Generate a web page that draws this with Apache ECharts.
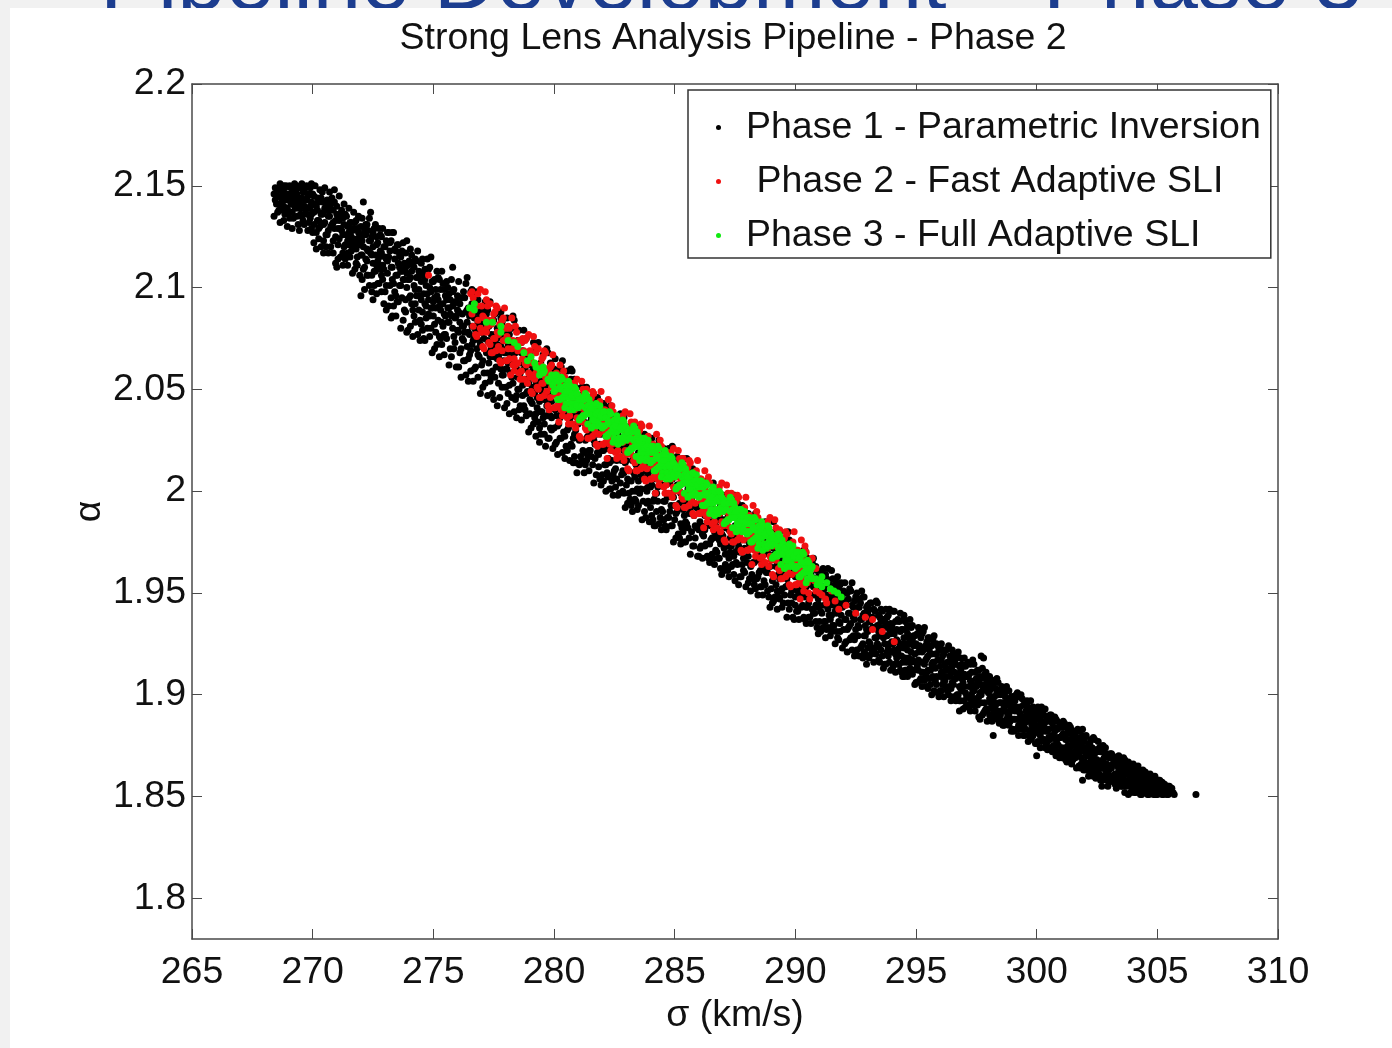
<!DOCTYPE html>
<html>
<head>
<meta charset="utf-8">
<title>Strong Lens Analysis Pipeline - Phase 2</title>
<script src="https://cdn.jsdelivr.net/npm/echarts@6/dist/echarts.min.js"></script>
<style>
  html, body { margin: 0; padding: 0; background: #f1f1f1; }
  #chart { width: 1392px; height: 1048px; }
</style>
</head>
<body>
<div id="chart"></div>
<script>
// Posterior samples, grouped by sigma (km/s): [sigma, [alpha, alpha, ...]]
const phase1Samples = [
[268.4,[2.146,2.135]],[268.5,[2.141]],[268.6,[2.148,2.138]],[268.7,[2.144]],
[268.8,[2.150,2.140,2.133]],[268.9,[2.146,2.150]],[269.0,[2.143,2.137]],[269.1,[2.149,2.141]],
[269.2,[2.142,2.146,2.134]],[269.3,[2.150,2.139]],[269.4,[2.144,2.131]],[269.5,[2.150,2.141,2.136]],
[269.6,[2.147,2.133]],[269.7,[2.143,2.149,2.138]],[269.8,[2.128,2.145]],[269.9,[2.149,2.140,2.134]],
[270.0,[2.146,2.127,2.137]],[270.1,[2.150,2.141]],[270.2,[2.144,2.133,2.138]],[270.3,[2.148,2.130]],
[270.4,[2.142,2.136,2.147]],[270.5,[2.149,2.132,2.139]],[270.6,[2.143,2.126]],[270.7,[2.147,2.135,2.140]],
[270.8,[2.131,2.144]],[270.9,[2.148,2.142,2.129]],[271.0,[2.136,2.110,2.140]],[271.1,[2.133,2.145,2.124]],
[271.2,[2.138,2.128]],[271.3,[2.131,2.141,2.120]],[271.4,[2.135,2.126,2.116]],[271.5,[2.127,2.139,2.121]],
[271.6,[2.132,2.118,2.125]],[271.7,[2.137,2.123,2.129]],[271.8,[2.119,2.133,2.112]],[271.9,[2.127,2.122,2.135]],
[272.0,[2.096,2.130,2.116,2.124]],[272.1,[2.142,2.120,2.109]],[272.2,[2.126,2.114,2.131]],[272.3,[2.118,2.128,2.106]],
[272.4,[2.137,2.117,2.123]],[272.5,[2.094,2.112,2.127,2.120]],[272.6,[2.131,2.108,2.116]],[272.7,[2.122,2.113,2.102]],
[272.8,[2.126,2.118,2.109]],[272.9,[2.111,2.129,2.104]],[273.0,[2.120,2.115,2.098]],[273.1,[2.127,2.107,2.113]],
[273.2,[2.118,2.101,2.122]],[273.3,[2.127,2.086,2.110,2.104]],[273.4,[2.114,2.098,2.119]],[273.5,[2.106,2.121,2.093]],
[273.6,[2.110,2.101,2.116]],[273.7,[2.095,2.108,2.118]],[273.8,[2.104,2.112,2.089]],[273.9,[2.123,2.078,2.100,2.107]],
[274.0,[2.113,2.095,2.104]],[274.1,[2.092,2.108,2.116]],[274.2,[2.101,2.086,2.110]],[274.3,[2.096,2.105,2.113]],
[274.4,[2.089,2.099,2.108]],[274.5,[2.103,2.082,2.094,2.112]],[274.6,[2.075,2.097,2.106]],[274.7,[2.091,2.101,2.085]],
[274.8,[2.109,2.094,2.087]],[274.9,[2.115,2.098,2.080,2.090]],[275.0,[2.093,2.103,2.086]],[275.1,[2.099,2.078,2.090]],
[275.2,[2.084,2.094,2.105]],[275.3,[2.089,2.099,2.075]],[275.4,[2.092,2.081,2.102]],[275.5,[2.086,2.096,2.077]],
[275.6,[2.100,2.083,2.090]],[275.7,[2.070,2.087,2.094]],[275.8,[2.110,2.080,2.091,2.098]],[275.9,[2.085,2.073,2.093]],
[276.0,[2.079,2.089,2.096]],[276.1,[2.068,2.083,2.092]],[276.2,[2.087,2.075,2.081]],[276.3,[2.095,2.078,2.064]],
[276.4,[2.105,2.083,2.071,2.089]],[276.5,[2.077,2.086,2.067]],[276.6,[2.081,2.072,2.092,2.099]],[276.7,[2.060,2.076,2.085]],
[276.8,[2.079,2.070,2.088]],[276.9,[2.066,2.082,2.074]],[277.0,[2.090,2.071,2.062,2.078]],[277.1,[2.075,2.083,2.058]],
[277.2,[2.068,2.079,2.087]],[277.3,[2.073,2.063,2.081]],[277.4,[2.056,2.070,2.077]],[277.5,[2.084,2.066,2.072,2.045]],
[277.6,[2.061,2.075,2.069]],[277.7,[2.079,2.053,2.066]],[277.8,[2.071,2.060,2.085,2.088]],[277.9,[2.064,2.074,2.057]],
[278.0,[2.068,2.051,2.077,2.060]],[278.1,[2.072,2.063,2.048]],[278.2,[2.058,2.067,2.080]],[278.3,[2.053,2.064,2.071,2.086]],
[278.4,[2.061,2.045,2.068]],[278.5,[2.056,2.074,2.050]],[278.6,[2.063,2.042,2.058]],[278.7,[2.052,2.069,2.047]],
[278.8,[2.060,2.055,2.040]],[278.9,[2.049,2.066,2.054]],[279.0,[2.058,2.038,2.045,2.062]],[279.1,[2.051,2.043,2.056]],
[279.2,[2.036,2.048,2.060]],[279.3,[2.053,2.041,2.046]],[279.4,[2.044,2.031,2.050,2.024]],[279.5,[2.039,2.055,2.047]],
[279.6,[2.033,2.045,2.028]],[279.7,[2.048,2.037,2.042,2.070]],[279.8,[2.026,2.040,2.052]],[279.9,[2.036,2.044,2.030]],
[280.0,[2.048,2.031,2.060]],[280.1,[2.037,2.053,2.024]],[280.2,[2.043,2.055,2.033]],[280.3,[2.048,2.026,2.061,2.038]],
[280.4,[2.029,2.045,2.055]],[280.5,[2.037,2.022,2.048]],[280.6,[2.050,2.031,2.041]],[280.7,[2.023,2.055,2.033,2.060]],
[280.8,[2.044,2.026,2.037,2.014]],[280.9,[2.051,2.030,2.014,2.041]],[281.0,[2.026,2.045,2.033]],[281.1,[2.036,2.017,2.047]],
[281.2,[2.020,2.039,2.051]],[281.3,[2.033,2.025,2.013]],[281.4,[2.040,2.027,2.045,2.017]],[281.5,[2.020,2.046,2.034]],
[281.6,[2.013,2.029,2.036]],[281.7,[2.040,2.016,2.023]],[281.8,[2.032,2.046,2.019]],[281.9,[2.006,2.029,2.036,2.023]],
[282.0,[2.020,2.037,2.008]],[282.1,[2.029,2.013,2.042]],[282.2,[2.021,2.009,2.031]],[282.3,[2.014,2.036,2.001,2.024]],
[282.4,[2.031,2.015,2.005]],[282.5,[2.021,2.036,2.010]],[282.6,[2.006,2.025,2.015]],[282.7,[2.031,1.999,2.021]],
[282.8,[2.008,2.026,2.015]],[282.9,[1.999,2.020,2.036,2.009]],[283.0,[2.022,2.003,2.015]],[283.1,[2.010,2.029,1.999]],
[283.2,[2.024,2.005,1.993]],[283.3,[2.009,2.017,2.029,1.995]],[283.4,[2.000,2.013,1.995,2.023]],[283.5,[2.019,1.993,2.005]],
[283.6,[2.024,2.008,2.001]],[283.7,[1.995,2.019,2.012]],[283.8,[2.001,1.987,2.014]],[283.9,[2.025,2.002,1.995,2.008]],
[284.0,[1.992,2.024,2.002]],[284.1,[2.013,1.995,2.006,1.986]],[284.2,[2.020,1.999,1.983,2.010]],[284.3,[1.995,2.014,2.002]],
[284.4,[2.006,1.987,2.017]],[284.5,[1.990,2.009,2.021]],[284.6,[2.003,1.995,1.983]],[284.7,[2.010,1.997,2.015,1.987]],
[284.8,[1.990,2.016,2.004]],[284.9,[1.983,1.999,2.006,2.022]],[285.0,[2.010,1.986,1.993]],[285.1,[2.003,2.017,1.990]],
[285.2,[1.977,2.000,2.007,1.994]],[285.3,[1.999,1.982,2.011]],[285.4,[1.988,2.004,1.975]],[285.5,[1.994,2.006,1.984,2.016]],
[285.6,[1.999,1.977,2.012,1.989]],[285.7,[1.980,1.996,2.006]],[285.8,[1.988,1.973,1.999]],[285.9,[2.001,1.982,1.992]],
[286.0,[1.981,2.003,1.968,1.991]],[286.1,[1.999,1.983,1.973]],[286.2,[1.989,2.004,1.978]],[286.3,[1.974,1.993,1.983]],
[286.4,[1.999,1.967,1.989]],[286.5,[1.976,1.994,1.983]],[286.6,[1.967,1.988,2.004,1.977]],[286.7,[1.990,1.971,1.983]],
[286.8,[1.978,1.997,1.967]],[286.9,[1.993,1.974,1.962]],[287.0,[1.978,1.986,1.998]],[287.1,[1.969,1.982,1.964,1.992]],
[287.2,[1.987,1.961,1.973]],[287.3,[1.993,1.977,1.970]],[287.4,[1.964,1.988,1.981]],[287.5,[1.970,1.956,1.983,1.998]],
[287.6,[1.994,1.971,1.964,1.977]],[287.7,[1.970,1.987,1.958]],[287.8,[1.980,1.964,1.993]],[287.9,[1.972,1.960,1.982]],
[288.0,[1.965,1.982,1.971]],[288.1,[1.974,1.957,1.984]],[288.2,[1.959,1.976,1.987]],[288.3,[1.972,1.965,1.954]],
[288.4,[1.978,1.966,1.983,1.957]],[288.5,[1.960,1.983,1.973]],[288.6,[1.953,1.968,1.974]],[288.7,[1.978,1.956,1.962]],
[288.8,[1.971,1.984,1.960]],[288.9,[1.948,1.969,1.975,1.963]],[289.0,[1.968,1.952,1.978]],[289.1,[1.958,1.972,1.946,1.985]],
[289.2,[1.963,1.974,1.954]],[289.3,[1.968,1.948,1.980,1.959]],[289.4,[1.951,1.966,1.975]],[289.5,[1.958,1.945,1.968]],
[289.6,[1.970,1.953,1.962]],[289.7,[1.945,1.974,1.954,1.980]],[289.8,[1.965,1.949,1.959]],[289.9,[1.971,1.952,1.938,1.962]],
[290.0,[1.948,1.958,1.944,1.966]],[290.1,[1.962,1.941,1.951]],[290.2,[1.966,1.953,1.948]],[290.3,[1.944,1.963,1.957]],
[290.4,[1.948,1.937,1.959,1.971]],[290.5,[1.967,1.949,1.943,1.954]],[290.6,[1.948,1.961,1.938]],[290.7,[1.955,1.942,1.965]],
[290.8,[1.949,1.940,1.957]],[290.9,[1.943,1.961,1.933,1.951]],[291.0,[1.957,1.944,1.936]],[291.1,[1.949,1.961,1.940]],
[291.2,[1.936,1.952,1.944]],[291.3,[1.957,1.932,1.949]],[291.4,[1.939,1.953,1.944]],[291.5,[1.931,1.948,1.961,1.939]],
[291.6,[1.949,1.934,1.944]],[291.7,[1.940,1.955,1.931]],[291.8,[1.952,1.936,1.927]],[291.9,[1.939,1.946,1.955]],
[292.0,[1.932,1.944,1.951]],[292.1,[1.937,1.926,1.946]],[292.2,[1.947,1.933,1.940]],[292.3,[1.928,1.951,1.935]],
[292.4,[1.943,1.929,1.938]],[292.5,[1.948,1.932,1.920,1.940]],[292.6,[1.929,1.943,1.934]],[292.7,[1.937,1.923,1.945]],
[292.8,[1.925,1.939,1.948,1.918]],[292.9,[1.934,1.929,1.920]],[293.0,[1.940,1.931,1.944,1.923]],[293.1,[1.925,1.945,1.936]],
[293.2,[1.921,1.933,1.938]],[293.3,[1.941,1.923,1.928]],[293.4,[1.934,1.945,1.925]],[293.5,[1.916,1.933,1.938,1.929]],
[293.6,[1.932,1.919,1.941]],[293.7,[1.925,1.936,1.915]],[293.8,[1.929,1.938,1.921]],[293.9,[1.932,1.916,1.942,1.925]],
[294.0,[1.921,1.934,1.926]],[294.1,[1.915,1.930,1.941,1.922]],[294.2,[1.932,1.918,1.927]],[294.3,[1.923,1.936,1.915]],
[294.4,[1.932,1.919,1.911]],[294.5,[1.923,1.928,1.937,1.939,1.909]],[294.6,[1.916,1.925,1.912,1.932]],[294.7,[1.928,1.910,1.918]],
[294.8,[1.933,1.921,1.916]],[294.9,[1.912,1.929,1.924]],[295.0,[1.916,1.906,1.925]],[295.1,[1.933,1.917,1.912,1.921]],
[295.2,[1.916,1.928,1.908]],[295.3,[1.922,1.911,1.931]],[295.4,[1.917,1.909,1.924]],[295.5,[1.912,1.928,1.903,1.919]],
[295.6,[1.924,1.912,1.905]],[295.7,[1.916,1.927,1.909]],[295.8,[1.907,1.920,1.913]],[295.9,[1.924,1.901,1.917]],
[296.0,[1.914,1.909,1.902]],[296.1,[1.919,1.911,1.922,1.905]],[296.2,[1.907,1.922,1.915]],[296.3,[1.902,1.912,1.916]],
[296.4,[1.919,1.904,1.909]],[296.5,[1.914,1.922,1.906]],[296.6,[1.898,1.911,1.916,1.908]],[296.7,[1.910,1.900,1.918]],
[296.8,[1.904,1.914,1.897,1.892]],[296.9,[1.908,1.915,1.902]],[297.0,[1.910,1.897,1.918,1.904]],[297.1,[1.899,1.909,1.915]],
[297.2,[1.904,1.895,1.910]],[297.3,[1.911,1.900,1.906]],[297.4,[1.896,1.915,1.902]],[297.5,[1.908,1.897,1.904]],
[297.6,[1.912,1.899,1.889,1.906]],[297.7,[1.896,1.908,1.900,1.919]],[297.8,[1.903,1.891,1.909,1.918]],[297.9,[1.893,1.904,1.911]],
[298.0,[1.893,1.904,1.901]],[298.1,[1.896,1.889,1.903]],[298.2,[1.907,1.896,1.893,1.899,1.880]],[298.3,[1.895,1.903,1.889]],
[298.4,[1.900,1.892,1.906]],[298.5,[1.896,1.890,1.900]],[298.6,[1.892,1.902,1.885,1.896]],[298.7,[1.899,1.892,1.887]],
[298.8,[1.895,1.902,1.890]],[298.9,[1.887,1.896,1.892]],[299.0,[1.899,1.883,1.894]],[299.1,[1.888,1.897,1.892]],
[299.2,[1.883,1.893,1.901,1.888]],[299.3,[1.894,1.885,1.891]],[299.4,[1.889,1.898,1.883]],[299.5,[1.895,1.886,1.880]],
[299.6,[1.887,1.891,1.897]],[299.7,[1.882,1.888,1.880,1.893]],[299.8,[1.891,1.879,1.885]],[299.9,[1.893,1.886,1.882]],
[300.0,[1.882,1.890,1.876,1.870]],[300.1,[1.885,1.891,1.881]],[300.2,[1.887,1.877,1.894,1.883]],[300.3,[1.878,1.885,1.890]],
[300.4,[1.882,1.875,1.887]],[300.5,[1.888,1.879,1.883]],[300.6,[1.874,1.890,1.879]],[300.7,[1.884,1.875,1.880]],
[300.8,[1.888,1.878,1.870,1.883]],[300.9,[1.875,1.884,1.879]],[301.0,[1.879,1.870,1.885]],[301.1,[1.872,1.881,1.887]],
[301.2,[1.878,1.874,1.868]],[301.3,[1.881,1.875,1.883,1.870]],[301.4,[1.872,1.884,1.878]],[301.5,[1.868,1.875,1.879]],
[301.6,[1.880,1.869,1.872]],[301.7,[1.876,1.883,1.870]],[301.8,[1.864,1.875,1.878,1.872]],[301.9,[1.874,1.866,1.880,1.858,1.883]],
[302.0,[1.872,1.879,1.867]],[302.1,[1.866,1.874,1.870]],[302.2,[1.876,1.862,1.872]],[302.3,[1.865,1.874,1.869]],
[302.4,[1.862,1.871,1.878,1.866]],[302.5,[1.872,1.863,1.868]],[302.6,[1.866,1.874,1.861]],[302.7,[1.872,1.864,1.858,1.855]],
[302.8,[1.865,1.869,1.874]],[302.9,[1.861,1.866,1.858,1.871]],[303.0,[1.869,1.857,1.863]],[303.1,[1.871,1.864,1.860]],
[303.2,[1.858,1.869,1.866]],[303.3,[1.860,1.854,1.866]],[303.4,[1.870,1.860,1.857,1.863]],[303.5,[1.860,1.868,1.855]],
[303.6,[1.864,1.857,1.869]],[303.7,[1.861,1.855,1.865]],[303.8,[1.857,1.867,1.851,1.861]],[303.9,[1.864,1.857,1.852]],
[304.0,[1.862,1.855,1.866]],[304.1,[1.857,1.863,1.852]],[304.2,[1.860,1.854,1.865]],[304.3,[1.856,1.861,1.851,1.858]],
[304.4,[1.863,1.855,1.859]],[304.5,[1.853,1.858,1.862]],[304.6,[1.857,1.851,1.860]],[304.7,[1.854,1.861,1.856]],
[304.8,[1.858,1.852,1.855]],[304.9,[1.857,1.851,1.860]],[305.0,[1.853,1.856,1.851]],[305.1,[1.858,1.852]],
[305.2,[1.855,1.857,1.851]],[305.3,[1.852,1.856]],[305.4,[1.854,1.851]],[305.5,[1.852,1.855]],
[305.6,[1.854]],[305.7,[1.851]],[306.6,[1.851]]
];

// Phase 1 samples on the half-step sigma grid
const phase1SamplesB = [
[268.45,[2.143,2.149]],[268.55,[2.137,2.145]],[268.65,[2.151,2.141,2.132]],[268.75,[2.147,2.138]],
[268.85,[2.143,2.136,2.149]],[268.95,[2.139,2.145,2.130]],[269.05,[2.150,2.146,2.134]],[269.15,[2.137,2.144,2.129]],
[269.25,[2.148,2.140,2.151]],[269.35,[2.135,2.146,2.142]],[269.45,[2.149,2.128,2.139]],[269.55,[2.144,2.151,2.135]],
[269.65,[2.140,2.131,2.147]],[269.75,[2.150,2.136,2.143]],[269.85,[2.132,2.146,2.139]],[269.95,[2.151,2.142,2.129,2.136]],
[270.05,[2.122,2.137,2.131,2.145]],[270.15,[2.140,2.127,2.119]],[270.25,[2.129,2.142,2.133,2.124]],[270.35,[2.136,2.120,2.144]],
[270.45,[2.123,2.131,2.137,2.117]],[270.55,[2.141,2.126,2.120]],[270.65,[2.128,2.135,2.117,2.138]],[270.75,[2.130,2.120,2.141]],
[270.85,[2.117,2.132,2.123,2.138]],[270.95,[2.133,2.125,2.112]],[271.05,[2.114,2.134,2.129,2.121]],[271.15,[2.129,2.115,2.136]],
[271.25,[2.117,2.126,2.134,2.111]],[271.35,[2.136,2.121,2.114]],[271.45,[2.117,2.130,2.111,2.123]],[271.55,[2.132,2.115,2.127]],
[271.65,[2.107,2.124,2.120,2.128]],[271.75,[2.121,2.109,2.132]],[271.85,[2.115,2.129,2.111,2.124]],[271.95,[2.126,2.106,2.121]],
[272.05,[2.104,2.123,2.116,2.134]],[272.15,[2.128,2.110,2.099]],[272.25,[2.113,2.131,2.119,2.106]],[272.35,[2.123,2.101,2.134]],
[272.45,[2.106,2.116,2.125,2.098]],[272.55,[2.129,2.108,2.101]],[272.65,[2.111,2.121,2.097,2.125]],[272.75,[2.115,2.102,2.129]],
[272.85,[2.098,2.117,2.106,2.125]],[272.95,[2.120,2.109,2.092]],[273.05,[2.089,2.123,2.114,2.101]],[273.15,[2.115,2.091,2.127]],
[273.25,[2.095,2.110,2.123,2.085]],[273.35,[2.127,2.102,2.091]],[273.45,[2.096,2.118,2.086,2.106]],[273.55,[2.121,2.093,2.112]],
[273.65,[2.080,2.108,2.101,2.115]],[273.75,[2.104,2.084,2.122]],[273.85,[2.094,2.117,2.088,2.110]],[273.95,[2.111,2.079,2.104]],
[274.05,[2.081,2.105,2.096,2.119]],[274.15,[2.112,2.089,2.076]],[274.25,[2.092,2.114,2.099,2.083]],[274.35,[2.105,2.077,2.118]],
[274.45,[2.084,2.096,2.107,2.074]],[274.55,[2.114,2.088,2.079]],[274.65,[2.092,2.104,2.074,2.109]],[274.75,[2.097,2.080,2.114]],
[274.85,[2.076,2.100,2.086,2.110]],[274.95,[2.103,2.090,2.068]],[275.05,[2.070,2.104,2.095,2.082]],[275.15,[2.096,2.072,2.108]],
[275.25,[2.076,2.091,2.104,2.066]],[275.35,[2.108,2.083,2.072]],[275.45,[2.077,2.099,2.067,2.087]],[275.55,[2.103,2.075,2.094]],
[275.65,[2.062,2.090,2.083,2.097]],[275.75,[2.086,2.066,2.104]],[275.85,[2.076,2.099,2.070,2.092]],[275.95,[2.093,2.061,2.086]],
[276.05,[2.061,2.088,2.078,2.103]],[276.15,[2.095,2.070,2.056]],[276.25,[2.074,2.098,2.081,2.064]],[276.35,[2.088,2.057,2.102]],
[276.45,[2.065,2.078,2.090,2.054]],[276.55,[2.098,2.069,2.059]],[276.65,[2.074,2.087,2.054,2.092]],[276.75,[2.079,2.061,2.098]],
[276.85,[2.056,2.083,2.067,2.094]],[276.95,[2.086,2.072,2.048]],[277.05,[2.051,2.088,2.078,2.064]],[277.15,[2.080,2.053,2.093]],
[277.25,[2.058,2.074,2.089,2.047]],[277.35,[2.093,2.066,2.054]],[277.45,[2.059,2.083,2.048,2.070]],[277.55,[2.087,2.056,2.077]],
[277.65,[2.042,2.072,2.065,2.080]],[277.75,[2.068,2.046,2.088]],[277.85,[2.057,2.083,2.051,2.075]],[277.95,[2.076,2.041,2.068]],
[278.05,[2.043,2.070,2.060,2.085]],[278.15,[2.077,2.052,2.038]],[278.25,[2.056,2.080,2.063,2.046]],[278.35,[2.070,2.039,2.084]],
[278.45,[2.047,2.060,2.072,2.036]],[278.55,[2.079,2.050,2.040]],[278.65,[2.055,2.068,2.035,2.073]],[278.75,[2.060,2.042,2.079]],
[278.85,[2.037,2.064,2.048,2.075]],[278.95,[2.067,2.053,2.029]],[279.05,[2.031,2.068,2.058,2.044]],[279.15,[2.060,2.033,2.073]],
[279.25,[2.038,2.054,2.069,2.027]],[279.35,[2.073,2.046,2.034]],[279.45,[2.039,2.063,2.028,2.050]],[279.55,[2.067,2.036,2.057]],
[279.65,[2.022,2.052,2.045,2.060]],[279.75,[2.048,2.026,2.068]],[279.85,[2.037,2.063,2.031,2.055]],[279.95,[2.056,2.021,2.048]],
[280.05,[2.023,2.050,2.040,2.065]],[280.15,[2.057,2.032,2.018]],[280.25,[2.036,2.060,2.043,2.026]],[280.35,[2.050,2.019,2.064]],
[280.45,[2.027,2.040,2.052,2.016]],[280.55,[2.059,2.030,2.020]],[280.65,[2.035,2.048,2.015,2.053]],[280.75,[2.040,2.022,2.059]],
[280.85,[2.017,2.044,2.028,2.055]],[280.95,[2.047,2.033,2.009]],[281.05,[2.013,2.047,2.038,2.025]],[281.15,[2.039,2.015,2.051]],
[281.25,[2.019,2.034,2.047,2.009]],[281.35,[2.051,2.026,2.015]],[281.45,[2.020,2.042,2.010,2.030]],[281.55,[2.045,2.017,2.036]],
[281.65,[2.004,2.032,2.025,2.039]],[281.75,[2.028,2.008,2.046]],[281.85,[2.018,2.041,2.012,2.034]],[281.95,[2.035,2.003,2.028]],
[282.05,[2.005,2.029,2.020,2.043]],[282.15,[2.036,2.013,2.000]],[282.25,[2.016,2.038,2.023,2.007]],[282.35,[2.029,2.001,2.042]],
[282.45,[2.008,2.020,2.031,1.998]],[282.55,[2.037,2.011,2.002]],[282.65,[2.016,2.028,1.998,2.033]],[282.75,[2.021,2.004,2.038]],
[282.85,[2.000,2.024,2.010,2.034]],[282.95,[2.027,2.014,1.992]],[283.05,[1.994,2.028,2.019,2.006]],[283.15,[2.020,1.996,2.032]],
[283.25,[2.000,2.015,2.028,1.990]],[283.35,[2.032,2.007,1.996]],[283.45,[2.001,2.023,1.991,2.011]],[283.55,[2.027,1.999,2.018]],
[283.65,[1.986,2.014,2.007,2.021]],[283.75,[2.010,1.990,2.028]],[283.85,[2.000,2.023,1.994,2.016]],[283.95,[2.017,1.985,2.010]],
[284.05,[1.988,2.012,2.003,2.026]],[284.15,[2.019,1.996,1.983]],[284.25,[1.999,2.021,2.006,1.990]],[284.35,[2.012,1.984,2.025]],
[284.45,[1.991,2.003,2.014,1.981]],[284.55,[2.021,1.995,1.986]],[284.65,[1.999,2.011,1.981,2.016]],[284.75,[2.004,1.987,2.021]],
[284.85,[1.983,2.007,1.993,2.017]],[284.95,[2.010,1.997,1.975]],[285.05,[1.977,2.011,2.002,1.989]],[285.15,[2.003,1.979,2.015]],
[285.25,[1.984,1.999,2.012,1.974]],[285.35,[2.016,1.991,1.980]],[285.45,[1.985,2.007,1.975,1.995]],[285.55,[2.010,1.982,2.001]],
[285.65,[1.969,1.997,1.990,2.004]],[285.75,[1.993,1.973,2.011]],[285.85,[1.983,2.006,1.977,1.999]],[285.95,[2.000,1.968,1.993]],
[286.05,[1.972,1.993,1.985,2.006]],[286.15,[2.000,1.979,1.967]],[286.25,[1.981,2.001,1.988,1.973]],[286.35,[1.993,1.968,2.005]],
[286.45,[1.974,1.985,1.995,1.965]],[286.55,[2.000,1.977,1.969]],[286.65,[1.980,1.991,1.964,1.996]],[286.75,[1.986,1.970,2.001]],
[286.85,[1.967,1.988,1.976,1.997]],[286.95,[1.991,1.979,1.959]],[287.05,[1.961,1.992,1.984,1.972]],[287.15,[1.984,1.963,1.995]],
[287.25,[1.967,1.981,1.992,1.958]],[287.35,[1.996,1.973,1.963]],[287.45,[1.968,1.988,1.959,1.977]],[287.55,[1.990,1.965,1.982]],
[287.65,[1.954,1.980,1.973,1.986]],[287.75,[1.976,1.958,1.992]],[287.85,[1.967,1.987,1.961,1.981]],[287.95,[1.982,1.953,1.976]],
[288.05,[1.955,1.976,1.968,1.989]],[288.15,[1.984,1.963,1.951]],[288.25,[1.965,1.985,1.972,1.957]],[288.35,[1.977,1.952,1.989]],
[288.45,[1.958,1.969,1.979,1.949]],[288.55,[1.984,1.961,1.953]],[288.65,[1.965,1.976,1.949,1.981]],[288.75,[1.970,1.954,1.985]],
[288.85,[1.951,1.972,1.960,1.981]],[288.95,[1.975,1.963,1.943]],[289.05,[1.945,1.976,1.968,1.956]],[289.15,[1.969,1.948,1.980]],
[289.25,[1.951,1.965,1.976,1.942]],[289.35,[1.980,1.957,1.947]],[289.45,[1.952,1.972,1.943,1.961]],[289.55,[1.974,1.949,1.966]],
[289.65,[1.938,1.964,1.957,1.970]],[289.75,[1.960,1.942,1.976]],[289.85,[1.951,1.971,1.945,1.965]],[289.95,[1.966,1.937,1.960]],
[290.05,[1.941,1.960,1.953,1.971]],[290.15,[1.966,1.948,1.937]],[290.25,[1.950,1.968,1.956,1.943]],[290.35,[1.960,1.938,1.971]],
[290.45,[1.943,1.953,1.962,1.935]],[290.55,[1.966,1.945,1.938]],[290.65,[1.949,1.959,1.935,1.963]],[290.75,[1.953,1.940,1.967]],
[290.85,[1.936,1.955,1.944,1.963]],[290.95,[1.958,1.947,1.930]],[291.05,[1.931,1.958,1.951,1.941]],[291.15,[1.953,1.933,1.962]],
[291.25,[1.936,1.948,1.959,1.928]],[291.35,[1.962,1.942,1.933]],[291.45,[1.937,1.954,1.929,1.945]],[291.55,[1.957,1.934,1.949]],
[291.65,[1.925,1.947,1.941,1.953]],[291.75,[1.944,1.928,1.958]],[291.85,[1.935,1.954,1.931,1.948]],[291.95,[1.949,1.923,1.943]],
[292.05,[1.925,1.944,1.937,1.955]],[292.15,[1.950,1.932,1.921]],[292.25,[1.934,1.952,1.940,1.927]],[292.35,[1.944,1.922,1.955]],
[292.45,[1.927,1.937,1.946,1.919]],[292.55,[1.950,1.929,1.922]],[292.65,[1.933,1.943,1.919,1.947]],[292.75,[1.937,1.924,1.951]],
[292.85,[1.921,1.940,1.929,1.948]],[292.95,[1.943,1.932,1.915]],[293.05,[1.918,1.942,1.936,1.926]],[293.15,[1.937,1.920,1.945]],
[293.25,[1.923,1.933,1.942,1.916]],[293.35,[1.946,1.928,1.920]],[293.45,[1.924,1.939,1.917,1.931]],[293.55,[1.942,1.922,1.936]],
[293.65,[1.913,1.933,1.928,1.937]],[293.75,[1.929,1.915,1.942]],[293.85,[1.923,1.939,1.919,1.934]],[293.95,[1.935,1.912,1.930]],
[294.05,[1.914,1.931,1.925,1.941]],[294.15,[1.936,1.920,1.911]],[294.25,[1.921,1.937,1.926,1.915]],[294.35,[1.931,1.912,1.940]],
[294.45,[1.916,1.925,1.932,1.909]],[294.55,[1.936,1.918,1.912]],[294.65,[1.922,1.930,1.909,1.934]],[294.75,[1.925,1.913,1.937]],
[294.85,[1.910,1.927,1.917,1.934]],[294.95,[1.929,1.920,1.905]],[295.05,[1.906,1.930,1.924,1.914]],[295.15,[1.924,1.907,1.932]],
[295.25,[1.911,1.921,1.930,1.904]],[295.35,[1.933,1.915,1.907]],[295.45,[1.911,1.926,1.904,1.918]],[295.55,[1.928,1.908,1.922]],
[295.65,[1.900,1.920,1.915,1.924]],[295.75,[1.916,1.902,1.929]],[295.85,[1.909,1.925,1.905,1.920]],[295.95,[1.922,1.899,1.917]],
[296.05,[1.902,1.917,1.911,1.925]],[296.15,[1.920,1.907,1.899]],[296.25,[1.909,1.922,1.913,1.904]],[296.35,[1.916,1.900,1.924]],
[296.45,[1.903,1.911,1.917,1.897]],[296.55,[1.920,1.905,1.899]],[296.65,[1.908,1.915,1.897,1.918]],[296.75,[1.910,1.900,1.921]],
[296.85,[1.897,1.912,1.903,1.918]],[296.95,[1.914,1.906,1.893]],[297.05,[1.894,1.914,1.909,1.901]],[297.15,[1.909,1.895,1.916]],
[297.25,[1.898,1.907,1.915,1.892]],[297.35,[1.917,1.902,1.895]],[297.45,[1.898,1.911,1.892,1.904]],[297.55,[1.912,1.895,1.907]],
[297.65,[1.888,1.905,1.901,1.909]],[297.75,[1.902,1.890,1.913]],[297.85,[1.896,1.910,1.892,1.905]],[297.95,[1.907,1.887,1.902]],
[298.05,[1.890,1.902,1.898,1.909]],[298.15,[1.905,1.894,1.887]],[298.25,[1.896,1.906,1.899,1.891]],[298.35,[1.901,1.888,1.908]],
[298.45,[1.891,1.896,1.902,1.886]],[298.55,[1.904,1.892,1.887]],[298.65,[1.894,1.900,1.885,1.902]],[298.75,[1.896,1.888,1.904]],
[298.85,[1.885,1.897,1.890,1.902]],[298.95,[1.899,1.893,1.882]],[299.05,[1.882,1.899,1.894,1.888]],[299.15,[1.894,1.883,1.900]],
[299.25,[1.885,1.892,1.899,1.880]],[299.35,[1.900,1.888,1.883]],[299.45,[1.885,1.895,1.880,1.889]],[299.55,[1.896,1.883,1.892]],
[299.65,[1.877,1.890,1.887,1.894]],[299.75,[1.888,1.878,1.897]],[299.85,[1.883,1.894,1.880,1.890]],[299.95,[1.891,1.876,1.888]],
[300.05,[1.877,1.888,1.884,1.894]],[300.15,[1.890,1.880,1.874]],[300.25,[1.882,1.892,1.885,1.878]],[300.35,[1.887,1.874,1.893]],
[300.45,[1.877,1.882,1.887,1.873]],[300.55,[1.890,1.878,1.874]],[300.65,[1.880,1.886,1.872,1.888]],[300.75,[1.882,1.874,1.889]],
[300.85,[1.872,1.883,1.876,1.887]],[300.95,[1.884,1.879,1.869]],[301.05,[1.869,1.884,1.880,1.874]],[301.15,[1.880,1.869,1.886]],
[301.25,[1.872,1.878,1.884,1.867]],[301.35,[1.885,1.874,1.869]],[301.45,[1.871,1.881,1.866,1.875]],[301.55,[1.882,1.869,1.878]],
[301.65,[1.864,1.876,1.873,1.879]],[301.75,[1.874,1.865,1.882]],[301.85,[1.869,1.879,1.866,1.876]],[301.95,[1.877,1.863,1.874]],
[302.05,[1.863,1.874,1.870,1.880]],[302.15,[1.876,1.866,1.860]],[302.25,[1.868,1.878,1.871,1.864]],[302.35,[1.873,1.860,1.879]],
[302.45,[1.863,1.868,1.873,1.859]],[302.55,[1.877,1.865,1.861]],[302.65,[1.866,1.872,1.858,1.874]],[302.75,[1.868,1.860,1.875]],
[302.85,[1.859,1.870,1.863,1.874]],[302.95,[1.870,1.865,1.855]],[303.05,[1.858,1.869,1.864,1.871]],[303.15,[1.866,1.859,1.870]],
[303.25,[1.861,1.867,1.856]],[303.35,[1.868,1.860,1.865,1.855]],[303.45,[1.857,1.864,1.869]],[303.55,[1.862,1.855,1.866]],
[303.65,[1.858,1.864,1.852,1.868]],[303.75,[1.863,1.857,1.866]],[303.85,[1.855,1.862,1.859,1.866]],[303.95,[1.861,1.853,1.864]],
[304.05,[1.856,1.863,1.859,1.852]],[304.15,[1.861,1.855,1.864]],[304.25,[1.853,1.859,1.862]],[304.35,[1.857,1.851,1.861,1.855]],
[304.45,[1.859,1.854,1.862]],[304.55,[1.852,1.857,1.860]],[304.65,[1.855,1.859,1.851]],[304.75,[1.857,1.853,1.860]],
[304.85,[1.851,1.856,1.858]],[304.95,[1.854,1.857,1.851]],[305.05,[1.856,1.852,1.858]],[305.15,[1.853,1.856]],
[305.25,[1.851,1.855]],[305.35,[1.854,1.852]],[305.45,[1.851,1.855]],[305.55,[1.853]],[305.65,[1.852]]
];

const phase2Samples = [
[274.8,[2.106]],[276.55,[2.097]],[276.6,[2.087,2.098]],[276.8,[2.076,2.091]],[277.0,[2.091,2.078]],
[277.1,[2.070,2.085]],[277.2,[2.094,2.078]],[277.3,[2.073,2.084]],[277.4,[2.082,2.068]],[277.5,[2.075,2.087]],
[277.6,[2.091,2.069]],[277.7,[2.071,2.077]],[277.8,[2.081,2.063]],[277.9,[2.074,2.085]],[278.0,[2.064,2.080]],
[278.1,[2.081,2.070]],[278.2,[2.057,2.074]],[278.3,[2.074,2.062]],[278.4,[2.062,2.081]],[278.5,[2.069,2.063]],
[278.6,[2.055,2.074]],[278.7,[2.075,2.065]],[278.8,[2.063,2.074]],[278.9,[2.053,2.068]],[279.0,[2.069,2.056]],
[279.1,[2.048,2.063]],[279.2,[2.071,2.055]],[279.3,[2.051,2.062]],[279.4,[2.060,2.046]],[279.5,[2.053,2.065]],
[279.6,[2.069,2.047]],[279.7,[2.049,2.055]],[279.8,[2.058,2.040]],[279.9,[2.051,2.062]],[280.0,[2.041,2.057]],
[280.1,[2.058,2.047]],[280.2,[2.034,2.051]],[280.3,[2.052,2.040]],[280.4,[2.040,2.059]],[280.5,[2.047,2.041]],
[280.6,[2.033,2.052]],[280.7,[2.053,2.043]],[280.8,[2.041,2.052]],[280.9,[2.031,2.046]],[281.0,[2.047,2.034]],
[281.1,[2.026,2.041]],[281.2,[2.050,2.034]],[281.3,[2.031,2.042]],[281.4,[2.040,2.026]],[281.5,[2.033,2.045]],
[281.6,[2.049,2.027]],[281.7,[2.029,2.035]],[281.8,[2.040,2.022]],[281.9,[2.033,2.044]],[282.0,[2.023,2.039]],
[282.1,[2.040,2.029]],[282.2,[2.016,2.033]],[282.3,[2.035,2.023]],[282.4,[2.023,2.042]],[282.5,[2.030,2.024]],
[282.6,[2.016,2.035]],[282.7,[2.036,2.026]],[282.8,[2.025,2.036]],[282.9,[2.015,2.030]],[283.0,[2.031,2.018]],
[283.1,[2.010,2.025]],[283.2,[2.034,2.018]],[283.3,[2.015,2.026]],[283.4,[2.024,2.010]],[283.5,[2.017,2.029]],
[283.6,[2.033,2.011]],[283.7,[2.013,2.019]],[283.8,[2.023,2.005]],[283.9,[2.016,2.027]],[284.0,[2.006,2.022]],
[284.1,[2.023,2.012]],[284.2,[1.999,2.016]],[284.3,[2.018,2.006]],[284.4,[2.006,2.025]],[284.5,[2.013,2.007]],
[284.6,[1.999,2.018]],[284.7,[2.019,2.009]],[284.8,[2.007,2.018]],[284.9,[1.997,2.012]],[285.0,[2.013,2.000]],
[285.1,[1.992,2.007]],[285.2,[2.016,2.000]],[285.3,[1.997,2.008]],[285.4,[2.006,1.992]],[285.5,[1.999,2.011]],
[285.6,[2.015,1.993]],[285.7,[1.995,2.001]],[285.8,[2.006,1.988]],[285.9,[1.999,2.010]],[286.0,[1.989,2.005]],
[286.1,[2.006,1.995]],[286.2,[1.982,1.999]],[286.3,[2.000,1.988]],[286.4,[1.988,2.007]],[286.5,[1.995,1.989]],
[286.6,[1.981,2.000]],[286.7,[2.001,1.991]],[286.8,[1.990,2.001]],[286.9,[1.980,1.995]],[287.0,[1.996,1.983]],
[287.1,[1.975,1.990]],[287.2,[1.999,1.983]],[287.3,[1.980,1.991]],[287.4,[1.989,1.975]],[287.5,[1.982,1.994]],
[287.6,[1.998,1.976]],[287.7,[1.978,1.984]],[287.8,[1.988,1.970]],[287.9,[1.981,1.992]],[288.0,[1.971,1.987]],
[288.1,[1.988,1.977]],[288.2,[1.964,1.981]],[288.3,[1.983,1.971]],[288.4,[1.971,1.990]],[288.5,[1.978,1.972]],
[288.6,[1.964,1.983]],[288.7,[1.984,1.974]],[288.8,[1.973,1.984]],[288.9,[1.963,1.978]],[289.0,[1.979,1.966]],
[289.1,[1.958,1.973]],[289.2,[1.982,1.966]],[289.3,[1.962,1.973]],[289.4,[1.971,1.957]],[289.5,[1.964,1.976]],
[289.6,[1.980,1.958]],[289.7,[1.960,1.966]],[289.8,[1.971,1.953]],[289.9,[1.964,1.975]],[290.0,[1.954,1.970]],
[290.1,[1.971,1.960]],[290.2,[1.947,1.964]],[290.3,[1.966,1.954,1.956]],[290.4,[1.954,1.973]],[290.5,[1.961,1.955]],
[290.6,[1.947,1.966]],[290.7,[1.967,1.957]],[290.8,[1.956]],[291.0,[1.950]],[291.1,[1.949]],
[291.3,[1.945]],[291.5,[1.951]],[291.8,[1.942]],[292.1,[1.944]],[292.5,[1.940]],
[292.9,[1.938]],[293.2,[1.937,1.932]],[293.6,[1.931]],[294.1,[1.926]]
];

// Phase 2 samples on the half-step sigma grid
const phase2SamplesB = [
[276.65,[2.095,2.081]],[276.75,[2.077,2.091]],[276.85,[2.097,2.084]],[276.95,[2.080,2.099]],[277.05,[2.086,2.071]],
[277.15,[2.098,2.079]],[277.25,[2.081,2.091]],[277.35,[2.072,2.092]],[277.45,[2.084,2.068]],[277.55,[2.075,2.088]],
[277.65,[2.090,2.078]],[277.75,[2.064,2.082]],[277.85,[2.084,2.069]],[277.95,[2.074,2.090]],[278.05,[2.076,2.064]],
[278.15,[2.065,2.080]],[278.25,[2.085,2.070]],[278.35,[2.065,2.059]],[278.45,[2.078,2.071]],[278.55,[2.058,2.074]],
[278.65,[2.073,2.059]],[278.75,[2.055,2.069]],[278.85,[2.075,2.062]],[278.95,[2.058,2.077]],[279.05,[2.064,2.049]],
[279.15,[2.076,2.057]],[279.25,[2.058,2.068]],[279.35,[2.050,2.070]],[279.45,[2.062,2.046]],[279.55,[2.053,2.066]],
[279.65,[2.068,2.056]],[279.75,[2.042,2.060]],[279.85,[2.061,2.046]],[279.95,[2.051,2.067]],[280.05,[2.053,2.041]],
[280.15,[2.042,2.057]],[280.25,[2.062,2.047]],[280.35,[2.043,2.037]],[280.45,[2.056,2.049]],[280.55,[2.036,2.052]],
[280.65,[2.051,2.037]],[280.75,[2.033,2.047]],[280.85,[2.053,2.040]],[280.95,[2.036,2.055]],[281.05,[2.042,2.027]],
[281.15,[2.054,2.035]],[281.25,[2.038,2.048]],[281.35,[2.030,2.050]],[281.45,[2.042,2.026]],[281.55,[2.033,2.046]],
[281.65,[2.048,2.036]],[281.75,[2.023,2.041]],[281.85,[2.043,2.028]],[281.95,[2.033,2.049]],[282.05,[2.035,2.023]],
[282.15,[2.024,2.039]],[282.25,[2.045,2.030]],[282.35,[2.026,2.020]],[282.45,[2.039,2.032]],[282.55,[2.019,2.035]],
[282.65,[2.034,2.020]],[282.75,[2.017,2.031]],[282.85,[2.037,2.024]],[282.95,[2.020,2.039]],[283.05,[2.026,2.011]],
[283.15,[2.038,2.019]],[283.25,[2.022,2.032]],[283.35,[2.014,2.034]],[283.45,[2.026,2.010]],[283.55,[2.017,2.030]],
[283.65,[2.032,2.020]],[283.75,[2.006,2.024]],[283.85,[2.026,2.011]],[283.95,[2.016,2.032]],[284.05,[2.018,2.006]],
[284.15,[2.007,2.022]],[284.25,[2.028,2.013]],[284.35,[2.009,2.003]],[284.45,[2.022,2.015]],[284.55,[2.002,2.018]],
[284.65,[2.017,2.003]],[284.75,[1.999,2.013]],[284.85,[2.019,2.006]],[284.95,[2.002,2.021]],[285.05,[2.008,1.993]],
[285.15,[2.020,2.001]],[285.25,[2.004,2.014]],[285.35,[1.996,2.016]],[285.45,[2.008,1.992]],[285.55,[1.999,2.012]],
[285.65,[2.014,2.002]],[285.75,[1.989,2.007]],[285.85,[2.009,1.994]],[285.95,[1.999,2.015]],[286.05,[2.001,1.989]],
[286.15,[1.990,2.005]],[286.25,[2.010,1.995]],[286.35,[1.991,1.985]],[286.45,[2.004,1.997]],[286.55,[1.984,2.000]],
[286.65,[1.999,1.985]],[286.75,[1.982,1.996]],[286.85,[2.002,1.989]],[286.95,[1.985,2.004]],[287.05,[1.991,1.976]],
[287.15,[2.003,1.984]],[287.25,[1.987,1.997]],[287.35,[1.979,1.999]],[287.45,[1.991,1.975]],[287.55,[1.982,1.995]],
[287.65,[1.997,1.985]],[287.75,[1.971,1.989]],[287.85,[1.991,1.976]],[287.95,[1.981,1.997]],[288.05,[1.983,1.971]],
[288.15,[1.972,1.987]],[288.25,[1.993,1.978]],[288.35,[1.974,1.968]],[288.45,[1.987,1.980]],[288.55,[1.967,1.983]],
[288.65,[1.982,1.968]],[288.75,[1.965,1.979]],[288.85,[1.985,1.972]],[288.95,[1.968,1.987]],[289.05,[1.974,1.959]],
[289.15,[1.986,1.967]],[289.25,[1.969,1.979]],[289.35,[1.961,1.981]],[289.45,[1.973,1.957]],[289.55,[1.964,1.977]],
[289.65,[1.979,1.967]],[289.75,[1.954,1.972]],[289.85,[1.974,1.959]],[289.95,[1.964,1.980]],[290.05,[1.966,1.954]],
[290.15,[1.955,1.970]],[290.25,[1.976,1.961]],[290.35,[1.957,1.951]],[290.45,[1.970,1.963]],[290.55,[1.950,1.966]],
[290.65,[1.957]],[290.85,[1.962,1.951]],[291.25,[1.947]],[291.65,[1.946]]
];

const phase3Samples = [
[276.5,[2.090]],[276.7,[2.092,2.089]],[277.2,[2.083]],[277.8,[2.078,2.081]],[278.1,[2.074]],
[278.5,[2.071]],[278.9,[2.064]],[279.2,[2.063]],[279.4,[2.060,2.057]],[279.6,[2.059]],
[279.8,[2.054]],[279.9,[2.057]],
[280.0,[2.054,2.049]],[280.1,[2.057,2.050]],[280.2,[2.045,2.054]],[280.3,[2.050,2.056]],[280.4,[2.046,2.051]],
[280.5,[2.052,2.043]],[280.6,[2.046,2.054]],[280.7,[2.049,2.043]],[280.8,[2.040,2.046]],[280.9,[2.050,2.043]],
[281.0,[2.041,2.047]],[281.1,[2.044,2.036]],[281.2,[2.037,2.046]],[281.3,[2.048,2.041]],[281.4,[2.033,2.042]],
[281.5,[2.040,2.043]],[281.6,[2.035,2.037]],[281.7,[2.042,2.039]],[281.8,[2.035,2.032]],[281.9,[2.039,2.042]],
[282.0,[2.036,2.031]],[282.1,[2.039,2.032]],[282.2,[2.027,2.036]],[282.3,[2.033,2.039]],[282.4,[2.029,2.034]],
[282.5,[2.035,2.026]],[282.6,[2.029,2.037]],[282.7,[2.032,2.026]],[282.8,[2.024,2.030]],[282.9,[2.034,2.027]],
[283.0,[2.025,2.031]],[283.1,[2.028,2.020]],[283.2,[2.021,2.030]],[283.3,[2.032,2.025]],[283.4,[2.017,2.026]],
[283.5,[2.024,2.027]],[283.6,[2.019,2.021]],[283.7,[2.026,2.023]],[283.8,[2.018,2.015]],[283.9,[2.022,2.025]],
[284.0,[2.019,2.014]],[284.1,[2.022,2.015]],[284.2,[2.010,2.019]],[284.3,[2.016,2.022]],[284.4,[2.012,2.017]],
[284.5,[2.018,2.009]],[284.6,[2.012,2.020]],[284.7,[2.015,2.009]],[284.8,[2.006,2.012]],[284.9,[2.016,2.009]],
[285.0,[2.007,2.013]],[285.1,[2.010,2.002]],[285.2,[2.003,2.012]],[285.3,[2.014,2.007]],[285.4,[1.999,2.008]],
[285.5,[2.006,2.009]],[285.6,[2.001,2.003]],[285.7,[2.008,2.005]],[285.8,[2.001,1.998]],[285.9,[2.005,2.008]],
[286.0,[2.002,1.997]],[286.1,[2.005,1.998]],[286.2,[1.993,2.002]],[286.3,[1.998,2.004]],[286.4,[1.994,1.999]],
[286.5,[2.000,1.991]],[286.6,[1.994,2.002]],[286.7,[1.997,1.991]],[286.8,[1.989,1.995]],[286.9,[1.999,1.992]],
[287.0,[1.990,1.996]],[287.1,[1.993,1.985]],[287.2,[1.986,1.995]],[287.3,[1.997,1.990]],[287.4,[1.982,1.991]],
[287.5,[1.989,1.992]],[287.6,[1.984,1.986]],[287.7,[1.991,1.988]],[287.8,[1.983,1.980]],[287.9,[1.987,1.990]],
[288.0,[1.984,1.979]],[288.1,[1.987,1.980]],[288.2,[1.975,1.984]],[288.3,[1.981,1.987]],[288.4,[1.977,1.982]],
[288.5,[1.983,1.974]],[288.6,[1.977,1.985]],[288.7,[1.980,1.974]],[288.8,[1.972,1.978]],[288.9,[1.982,1.975]],
[289.0,[1.973,1.979]],[289.1,[1.976,1.968]],[289.2,[1.969,1.978]],[289.3,[1.979,1.972]],[289.4,[1.964,1.973]],
[289.5,[1.971,1.974]],[289.6,[1.966,1.968]],[289.7,[1.973,1.970]],[289.8,[1.966,1.963]],[289.9,[1.970,1.973]],
[290.0,[1.967,1.962]],[290.1,[1.970,1.963]],[290.2,[1.958,1.967]],[290.3,[1.964,1.970]],[290.4,[1.960,1.965]],
[290.5,[1.966,1.957]],[290.6,[1.960]],[290.7,[1.963,1.957]],[290.9,[1.954]],[291.1,[1.953,1.958]],
[291.3,[1.955]],[291.6,[1.951]],[291.9,[1.948]]
];

// Phase 3 samples on the half-step sigma grid
const phase3SamplesB = [
[277.45,[2.083]],[278.35,[2.073]],[278.75,[2.068]],[279.05,[2.066]],[279.25,[2.061]],
[279.55,[2.058,2.061]],[279.75,[2.055]],[279.95,[2.052,2.056]],
[280.05,[2.050,2.057]],[280.15,[2.054,2.045]],[280.25,[2.045,2.051]],[280.35,[2.055,2.046]],[280.45,[2.048,2.041]],
[280.55,[2.051,2.049]],[280.65,[2.040,2.052]],[280.75,[2.047,2.041]],[280.85,[2.041,2.051]],[280.95,[2.048,2.042]],
[281.05,[2.035,2.045]],[281.15,[2.042,2.036]],[281.25,[2.037,2.045]],[281.35,[2.047,2.038]],[281.45,[2.038,2.045]],
[281.55,[2.041,2.031]],[281.65,[2.032,2.035]],[281.75,[2.043,2.038]],[281.85,[2.033,2.039]],[281.95,[2.037,2.032]],
[282.05,[2.032,2.039]],[282.15,[2.036,2.027]],[282.25,[2.028,2.034]],[282.35,[2.038,2.029]],[282.45,[2.031,2.024]],
[282.55,[2.034,2.032]],[282.65,[2.023,2.035]],[282.75,[2.031,2.025]],[282.85,[2.025,2.035]],[282.95,[2.032,2.026]],
[283.05,[2.019,2.029]],[283.15,[2.026,2.020]],[283.25,[2.021,2.029]],[283.35,[2.031,2.022]],[283.45,[2.022,2.029]],
[283.55,[2.025,2.015]],[283.65,[2.016,2.019]],[283.75,[2.026,2.021]],[283.85,[2.016,2.022]],[283.95,[2.020,2.015]],
[284.05,[2.015,2.022]],[284.15,[2.019,2.010]],[284.25,[2.011,2.017]],[284.35,[2.021,2.012]],[284.45,[2.014,2.007]],
[284.55,[2.017,2.015]],[284.65,[2.006,2.018]],[284.75,[2.013,2.007]],[284.85,[2.007,2.017]],[284.95,[2.014,2.008]],
[285.05,[2.001,2.011]],[285.15,[2.008,2.002]],[285.25,[2.003,2.011]],[285.35,[2.013,2.004]],[285.45,[2.004,2.011]],
[285.55,[2.007,1.997]],[285.65,[1.998,2.001]],[285.75,[2.009,2.004]],[285.85,[1.999,2.005]],[285.95,[2.003,1.998]],
[286.05,[1.998,2.005]],[286.15,[2.002,1.993]],[286.25,[1.993,1.999]],[286.35,[2.003,1.994]],[286.45,[1.996,1.989]],
[286.55,[1.999,1.997]],[286.65,[1.988,2.000]],[286.75,[1.996,1.990]],[286.85,[1.990,2.000]],[286.95,[1.997,1.991]],
[287.05,[1.984,1.994]],[287.15,[1.991,1.985]],[287.25,[1.986,1.994]],[287.35,[1.996,1.987]],[287.45,[1.987,1.994]],
[287.55,[1.990,1.980]],[287.65,[1.981,1.984]],[287.75,[1.991,1.986]],[287.85,[1.981,1.987]],[287.95,[1.985,1.980]],
[288.05,[1.980,1.987]],[288.15,[1.984,1.975]],[288.25,[1.976,1.982]],[288.35,[1.986,1.977]],[288.45,[1.979,1.972]],
[288.55,[1.982,1.980]],[288.65,[1.971,1.983]],[288.75,[1.979,1.973]],[288.85,[1.973,1.983]],[288.95,[1.980,1.974]],
[289.05,[1.967,1.977]],[289.15,[1.974,1.968]],[289.25,[1.968,1.976]],[289.35,[1.978,1.969]],[289.45,[1.969,1.976]],
[289.55,[1.972,1.962]],[289.65,[1.963,1.966]],[289.75,[1.974,1.969]],[289.85,[1.964,1.970]],[289.95,[1.968,1.963]],
[290.05,[1.963,1.970]],[290.15,[1.967,1.958]],[290.25,[1.959,1.965]],[290.35,[1.969,1.960]],[290.45,[1.962,1.955]],
[290.55,[1.965]],[290.65,[1.958,1.962]],[290.85,[1.957]],[291.05,[1.956]],[291.45,[1.952]],[291.75,[1.950]]
];

const seriesNames = [
  'Phase 1 - Parametric Inversion',
  ' Phase 2 - Fast Adaptive SLI',
  'Phase 3 - Full Adaptive SLI'
];
const seriesColors = ['#000000', '#f01010', '#10ea10'];

const yTicks = [1.8, 1.85, 1.9, 1.95, 2, 2.05, 2.1, 2.15, 2.2];

const chartTitle = 'Strong Lens Analysis Pipeline - Phase 2';
const slideTitle = 'Pipeline Development \u2013 Phase 3';
const xName = '\u03c3 (km/s)';
const yName = '\u03b1';

// flatten [sigma, [alpha...]] columns into [sigma, alpha] points
function toPoints() {
  const out = [];
  Array.prototype.slice.call(arguments).forEach(function (cols) {
    cols.forEach(function (c) {
      c[1].forEach(function (a) { out.push([c[0], a]); });
    });
  });
  return out;
}

const FONT = "'Liberation Sans', Arial, Helvetica, sans-serif";
const FS = 37.5;
const AXIS_COLOR = '#4a4a4a';
const TEXT_COLOR = '#111111';

const chart = echarts.init(document.getElementById('chart'), null, { renderer: 'canvas' });

const commonX = {
  type: 'value', min: 265, max: 310, interval: 5,
  splitLine: { show: false },
  axisLine: { show: true, onZero: false, lineStyle: { color: AXIS_COLOR, width: 1.5 } },
  axisTick: { show: true, inside: true, length: 10, lineStyle: { color: AXIS_COLOR, width: 1 } }
};
const commonY = {
  type: 'value', min: 1.78, max: 2.2,
  splitLine: { show: false },
  axisLine: { show: true, onZero: false, lineStyle: { color: AXIS_COLOR, width: 1.5 } },
  axisTick: { show: true, inside: true, length: 10, customValues: yTicks, lineStyle: { color: AXIS_COLOR, width: 1 } }
};

const pointSets = [
  toPoints(phase1Samples, phase1SamplesB),
  toPoints(phase2Samples, phase2SamplesB),
  toPoints(phase3Samples, phase3SamplesB)
];

chart.setOption({
  animation: false,
  backgroundColor: 'transparent',
  textStyle: { fontFamily: FONT },
  title: {
    text: chartTitle,
    left: 728, top: 15, textAlign: 'center',
    textStyle: { fontFamily: FONT, fontSize: FS, fontWeight: 'normal', color: TEXT_COLOR }
  },
  graphic: [
    { type: 'text', z: -20, x: 100, y: -15,
      style: { text: slideTitle, font: '87px "Liberation Sans", Arial, sans-serif', fill: '#1c3d8f', verticalAlign: 'middle' } },
    { type: 'rect', z: -10, shape: { x: 10, y: 8, width: 1382, height: 1040 }, style: { fill: '#ffffff' } }
  ],
  grid: { left: 192, right: 114, top: 84, bottom: 109, containLabel: false, outerBoundsMode: 'none' },
  legend: {
    orient: 'vertical', left: 688, top: 90,
    data: seriesNames,
    icon: 'circle', itemWidth: 5, itemHeight: 5, itemGap: 9,
    padding: [15, 10, 0, 28],
    borderColor: '#333', borderWidth: 1.5, backgroundColor: '#fff',
    textStyle: { fontFamily: FONT, fontSize: FS, lineHeight: 45, color: TEXT_COLOR, padding: [0, 0, 0, 20] },
    selectedMode: false
  },
  xAxis: [
    Object.assign({}, commonX, {
      position: 'bottom',
      name: xName, nameLocation: 'middle', nameGap: 58, nameMoveOverlap: false,
      nameTextStyle: { fontFamily: FONT, fontSize: FS, color: TEXT_COLOR },
      axisLabel: { show: true, margin: 15, fontFamily: FONT, fontSize: FS, color: TEXT_COLOR }
    }),
    Object.assign({}, commonX, { position: 'top', axisLabel: { show: false } })
  ],
  yAxis: [
    Object.assign({}, commonY, {
      position: 'left',
      name: yName, nameLocation: 'middle', nameGap: 83, nameRotate: 90, nameMoveOverlap: false,
      nameTextStyle: { fontFamily: FONT, fontSize: FS, color: TEXT_COLOR },
      axisLabel: { show: true, margin: 6, customValues: yTicks, fontFamily: FONT, fontSize: FS, color: TEXT_COLOR,
        padding: [6, 0, 0, 0],
        formatter: function (v) { return String(+(+v).toFixed(2)); } }
    }),
    Object.assign({}, commonY, { position: 'right', axisLabel: { show: false } })
  ],
  series: pointSets.map(function (pts, i) {
    return {
      type: 'scatter', name: seriesNames[i],
      xAxisIndex: 0, yAxisIndex: 0,
      data: pts,
      symbol: 'circle', symbolSize: 7,
      large: false, progressive: 0,
      itemStyle: { color: seriesColors[i], opacity: 1 },
      emphasis: { disabled: true },
      silent: true
    };
  })
});
</script>
</body>
</html>
